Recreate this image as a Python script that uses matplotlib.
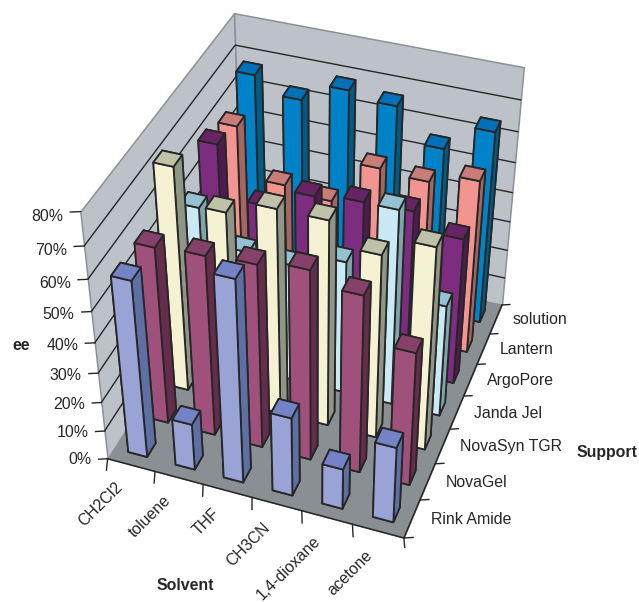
import matplotlib
matplotlib.use("Agg")
import matplotlib.pyplot as plt
from mpl_toolkits.mplot3d import proj3d
from mpl_toolkits.mplot3d.art3d import Poly3DCollection

plt.rcParams["font.family"] = ["Liberation Sans", "DejaVu Sans"]

# Enantiomeric excess (%) for each support, listed in solvent order
solvents = ["CH2Cl2", "toluene", "THF", "CH3CN", "1,4-dioxane", "acetone"]
supports = ["Rink Amide", "NovaGel", "NovaSyn TGR", "Janda Jel", "ArgoPore", "Lantern", "solution"]
rink_amide = [59, 16, 67, 27, 14, 26]
novagel = [59, 60, 61, 63, 59, 45]
novasyn_tgr = [74, 63.5, 68, 68, 61, 67]
janda_jel = [52, 41, 40, 45, 65, 38]
argopore = [63, 46.5, 53, 54.5, 55, 49.5]
lantern = [60, 44, 42, 56, 55, 58.5]
solution = [68, 63, 69, 67, 56.5, 65]
series = [rink_amide, novagel, novasyn_tgr, janda_jel, argopore, lantern, solution]
z_ticks = [0, 10, 20, 30, 40, 50, 60, 70, 80]

# (front face, side face, top face) for each support
shades = [
    ("#9AA3D6", "#5D6FA3", "#7482C8"),
    ("#A0517B", "#652D4B", "#85416A"),
    ("#F4F2D2", "#8F9686", "#BFC2A8"),
    ("#C9EAF5", "#7FA5AB", "#94C2D3"),
    ("#7C2D80", "#4E1B50", "#672464"),
    ("#F29590", "#A36660", "#C97C78"),
    ("#0082C8", "#005C85", "#0070B8"),
]
WALL = "#BDC1C8"
FLOOR = "#8A8F94"
WALL_EDGE = "#8C9197"
INK = "#262626"
BAR_WIDTH = 0.4
FONT = 11.4

W, H = 639, 602
fig = plt.figure(figsize=(W / 100, H / 100), dpi=100)
side, cx, cy = 554.8, 307.6, 271.05
ax = fig.add_axes([(cx - side / 2) / W, 1 - (cy + side / 2) / H, side / W, side / H],
                  projection="3d", computed_zorder=False)
ax.view_init(38.924, -70.242)
ax.set_proj_type("persp", focal_length=0.559)
ax.set_box_aspect((1.001, 1.174, 1.0))
ax.set_axis_off()

nx, ny, top = len(solvents), len(supports), z_ticks[-1]

# Two walls and the floor
walls = [
    [[(0, 0, 0), (0, ny, 0), (0, ny, top), (0, 0, top)]],
    [[(0, ny, 0), (nx, ny, 0), (nx, ny, top), (0, ny, top)]],
]
for verts in walls:
    ax.add_collection3d(Poly3DCollection(verts, facecolor=WALL, edgecolor=WALL_EDGE,
                                         linewidth=1.1, zorder=0))
ax.add_collection3d(Poly3DCollection([[(0, 0, 0), (nx, 0, 0), (nx, ny, 0), (0, ny, 0)]],
                                     facecolor=FLOOR, edgecolor=FLOOR, linewidth=0.5, zorder=1))

# Horizontal gridlines along both walls
for z in z_ticks[1:-1]:
    ax.plot([0, 0, nx], [0, ny, ny], [z, z, z], color=INK, lw=1.0, zorder=2)

# Floor edges and tick marks
ax.plot([0, nx, nx], [0, 0, ny], [0, 0, 0], color=INK, lw=1.1, zorder=2)
for i in range(nx + 1):
    ax.plot([i, i + 0.11], [0, -0.284], [0, 0], color=INK, lw=1.0, zorder=2)
for j in range(ny + 1):
    ax.plot([nx, nx + 0.156], [j, j + 0.07], [0, 0], color=INK, lw=1.0, zorder=2)
for z in z_ticks:
    ax.plot([0, -0.156], [0, -0.07], [z, z], color=INK, lw=1.0, zorder=2)

# Bars, painted from the back row forwards and from left to right
order = 10
for j in reversed(range(ny)):
    front, flank, cap = shades[j]
    for i, value in enumerate(series[j]):
        ax.bar3d(i + 0.5 - BAR_WIDTH / 2, j + 0.5 - BAR_WIDTH / 2, 0,
                 BAR_WIDTH, BAR_WIDTH, value,
                 color=[cap, cap, front, front, flank, flank],
                 edgecolor=INK, linewidth=1.3, shade=False, zorder=order)
        order += 1

ax.set_xlim(0, nx)
ax.set_ylim(0, ny)
ax.set_zlim(0, top)


def label(x, y, z, text, **kwargs):
    """Place flat screen-aligned text at a point of the 3D box."""
    px, py, _ = proj3d.proj_transform(x, y, z, ax.get_proj())
    ax.text2D(px, py, text, transform=ax.transData, fontsize=FONT, color=INK,
              zorder=200, **kwargs)


# Tick labels
for z in z_ticks:
    label(-0.276, -0.125, z * 0.985, f"{z}%", ha="right", va="center")
for j, name in enumerate(supports):
    label(nx + 0.33, j + 0.6, 0, name, ha="left", va="center")
for i, name in enumerate(solvents):
    label(i + 0.52, -0.55, 0, name, ha="right", va="center", rotation=45,
          rotation_mode="anchor")

# Axis titles
fig.text(21 / W, 1 - 345 / H, "ee", ha="center", va="center", fontsize=FONT,
         fontweight="bold", color=INK)
fig.text(185 / W, 1 - 585 / H, "Solvent", ha="center", va="center", fontsize=FONT,
         fontweight="bold", color=INK)
fig.text(607 / W, 1 - 452 / H, "Support", ha="center", va="center", fontsize=FONT,
         fontweight="bold", color=INK)

fig.savefig("out.png", dpi=100)
